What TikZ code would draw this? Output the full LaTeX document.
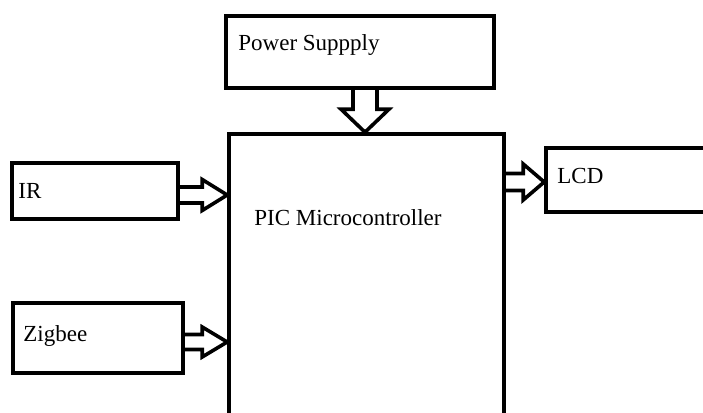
\documentclass[tikz,border=0pt]{standalone}
\usepackage{fontspec}
\setmainfont{Liberation Serif}
\usetikzlibrary{positioning,calc}

\tikzset{
  blockbox/.style={draw=black, line width=3.6pt, inner sep=0pt},
  boxlabel/.style={inner sep=0pt, font=\fontsize{23}{28}\selectfont},
  hollowline/.style={draw=black, line width=3.6pt, miter limit=20},
}

% hollow block arrows: #1 start, #2 tip, #3 half shaft, #4 half head, #5 head length
\newcommand{\hollowright}[5]{%
  \draw[hollowline] let \p1=(#1), \p2=(#2) in
    (\x1,\y1+#3) -- (\x2-#5,\y1+#3) -- (\x2-#5,\y1+#4) -- (\x2,\y1)
    -- (\x2-#5,\y1-#4) -- (\x2-#5,\y1-#3) -- (\x1,\y1-#3);}
\newcommand{\hollowdown}[5]{%
  \draw[hollowline] let \p1=(#1), \p2=(#2) in
    (\x1-#3,\y1) -- (\x1-#3,\y2+#5) -- (\x1-#4,\y2+#5) -- (\x1,\y2)
    -- (\x1+#4,\y2+#5) -- (\x1+#3,\y2+#5) -- (\x1+#3,\y1);}

\begin{document}
\begin{tikzpicture}[x=1pt, y=1pt]
      \clip (0,0) rectangle (703,-412);
      % Blocks
      \node[blockbox, minimum width=268pt, minimum height=72pt] (power) at (360,-52) {};
      \node[blockbox, minimum width=275pt, minimum height=306pt] (pic) at (366.5,-287) {};
      \node[blockbox, minimum width=166pt, minimum height=56pt] (ir) at (95,-191) {};
      \node[blockbox, minimum width=170pt, minimum height=70pt] (zigbee) at (98,-338) {};
      \node[blockbox, minimum width=174pt, minimum height=64pt] (lcd) at (633,-180) {};
      % Labels
      \node[boxlabel, right=14pt of power.west, yshift=6.5pt] (powertext) {Power Suppply};
      \node[boxlabel, below right=77pt and 27pt of pic.north west] (pictext) {PIC Microcontroller};
      \node[boxlabel, right=8pt of ir.west] (irtext) {IR};
      \node[boxlabel, right=12pt of zigbee.west, yshift=2pt] (zigbeetext) {Zigbee};
      \node[boxlabel, right=13pt of lcd.west, yshift=4.5pt] (lcdtext) {LCD};
      % Block arrows
      \coordinate (powerout) at ($(power.south)+(5,0)$);
      \coordinate (irout) at ($(ir.east)+(0,-4)$);
      \coordinate (zigbeeout) at ($(zigbee.east)+(0,-4)$);
      \coordinate (picout) at ($(pic.east |- lcd.west)+(0,-2)$);
      \hollowdown{powerout}{powerout |- pic.north}{12pt}{24pt}{23pt}
      \hollowright{irout}{pic.west |- irout}{8pt}{15.5pt}{25pt}
      \hollowright{zigbeeout}{pic.west |- zigbeeout}{7.5pt}{15pt}{25pt}
      \hollowright{picout}{lcd.west |- picout}{8.5pt}{18pt}{21pt}
\end{tikzpicture}
\end{document}
